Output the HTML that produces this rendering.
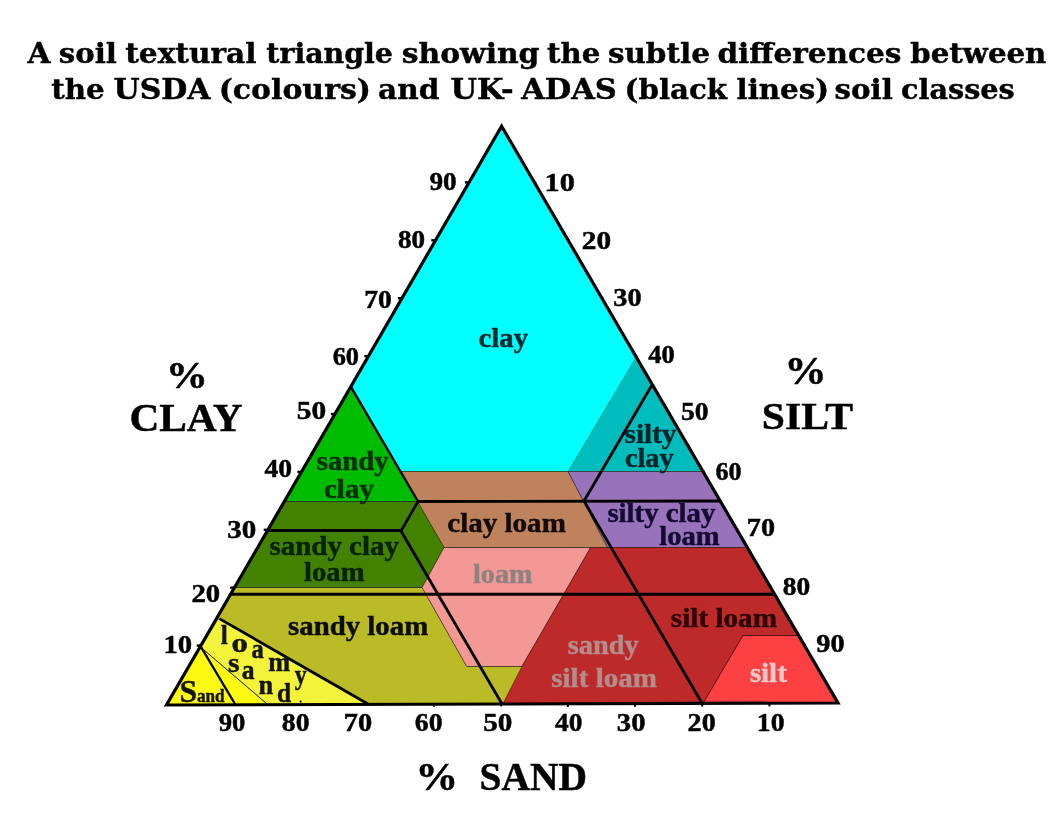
<!DOCTYPE html>
<html lang="en"><head><meta charset="utf-8"><title>Soil textural triangle</title>
<style>
html,body{margin:0;padding:0;background:#fff;}
body{width:1056px;height:834px;overflow:hidden;}
svg{display:block;}
svg text{font-family:"Liberation Serif","DejaVu Serif",serif;}
svg text.ttl{font-family:"DejaVu Serif Condensed","DejaVu Serif","Liberation Serif",serif;font-stretch:condensed;stroke:#000;stroke-width:.4px;}
</style></head><body>
<svg width="1056" height="834" viewBox="0 0 1056 834" role="img" aria-label="Soil textural triangle">
<rect width="1056" height="834" fill="#fff"/>
<g id="regions">
<polygon points="501.6,126.2 166.5,705.0 838.0,703.0" fill="#bbbb28" />
<polygon points="501.6,126.2 350.8,386.7 400.1,471.5 568.0,471.5 636.2,356.9" fill="#00ffff" />
<polygon points="636.2,356.9 568.0,471.5 703.0,471.5" fill="#00bcbc" />
<polygon points="350.8,386.7 417.5,501.5 284.3,501.5" fill="#00bc00" />
<polygon points="284.3,501.5 417.5,501.5 444.0,547.5 422.0,587.5 234.5,587.5" fill="#428200" />
<polygon points="400.1,471.5 568.0,471.5 607.5,547.5 444.0,547.5" fill="#be835d" />
<polygon points="568.0,471.5 703.0,471.5 747.3,547.5 607.5,547.5" fill="#9873bc" />
<polygon points="444.0,547.5 590.6,547.5 521.9,666.5 466.7,666.5 422.0,587.5" fill="#f49896" />
<polygon points="590.6,547.5 747.3,547.5 838.0,703.0 502.5,704.5 521.9,666.5" fill="#be2a2a" />
<polygon points="743.0,635.5 798.6,635.5 838.0,703.0 703.0,703.5" fill="#fd4143" />
<polygon points="219.3,618.6 368.0,704.5 166.5,705.0" fill="#f3f33c" />
<polygon points="201.0,647.0 267.0,704.5 166.5,705.0" fill="#fdfa12" />
</g>
<g id="thin" stroke="#000" fill="none">
<line x1="284.3" y1="501.5" x2="417.5" y2="501.5" stroke-width="1" stroke-opacity="0.6"/>
<line x1="400.1" y1="471.5" x2="703.0" y2="471.5" stroke-width="1" stroke-opacity="0.55"/>
<line x1="417.5" y1="501.5" x2="444.0" y2="547.5" stroke-width="1" stroke-opacity="0.6"/>
<line x1="444.0" y1="547.5" x2="607.5" y2="547.5" stroke-width="1" stroke-opacity="0.6"/>
<line x1="444.0" y1="547.5" x2="422.0" y2="587.5" stroke-width="1" stroke-opacity="0.6"/>
<line x1="422.0" y1="587.5" x2="466.7" y2="666.5" stroke-width="1" stroke-opacity="0.6"/>
<line x1="466.7" y1="666.5" x2="521.9" y2="666.5" stroke-width="1" stroke-opacity="0.6"/>
<line x1="521.9" y1="666.5" x2="590.6" y2="547.5" stroke-width="1" stroke-opacity="0.6"/>
<line x1="521.9" y1="666.5" x2="502.5" y2="704.5" stroke-width="1" stroke-opacity="0.4"/>
<line x1="234.5" y1="587.5" x2="422.0" y2="587.5" stroke-width="1" stroke-opacity="0.6"/>
<line x1="568.0" y1="471.5" x2="607.5" y2="547.5" stroke-width="1" stroke-opacity="0.6"/>
<line x1="607.5" y1="547.5" x2="747.3" y2="547.5" stroke-width="1" stroke-opacity="0.6"/>
<line x1="743.0" y1="635.5" x2="798.6" y2="635.5" stroke-width="1" stroke-opacity="0.6"/>
<line x1="743.0" y1="635.5" x2="703.0" y2="703.5" stroke-width="1" stroke-opacity="0.6"/>
<line x1="204.0" y1="650.0" x2="266.5" y2="703.5" stroke-width="1" stroke-opacity="0.9"/>
<line x1="636.2" y1="356.9" x2="568.0" y2="471.5" stroke-width="1" stroke-opacity="0.15"/>
</g>
<g id="adas" stroke="#000" fill="none" stroke-linecap="butt">
<circle cx="300.6" cy="701.6" r="1.1" fill="#14140a" stroke="none"/>
<line x1="350.8" y1="386.7" x2="418.0" y2="501.5" stroke-width="2.4" />
<line x1="401.0" y1="531.0" x2="418.0" y2="501.5" stroke-width="2.6" />
<line x1="417.0" y1="501.5" x2="720.0" y2="501.0" stroke-width="2.8" />
<line x1="267.0" y1="530.6" x2="401.5" y2="530.6" stroke-width="3" />
<line x1="401.0" y1="531.0" x2="502.0" y2="704.0" stroke-width="2.8" />
<line x1="230.0" y1="594.3" x2="773.0" y2="594.3" stroke-width="3" />
<line x1="651.5" y1="385.8" x2="584.0" y2="501.0" stroke-width="2.8" />
<line x1="584.0" y1="501.0" x2="702.5" y2="704.0" stroke-width="2.8" />
<line x1="219.3" y1="618.6" x2="368.0" y2="704.0" stroke-width="2.8" />
<line x1="201.0" y1="647.0" x2="235.0" y2="704.0" stroke-width="2.4" />
<line x1="196.7" y1="645.6" x2="200.9" y2="645.6" stroke-width="2.4" />
<line x1="803.8" y1="644.3" x2="805.6" y2="644.3" stroke-width="1.6" />
<line x1="230.2" y1="587.7" x2="234.4" y2="587.7" stroke-width="2.4" />
<line x1="770.1" y1="586.6" x2="771.9" y2="586.6" stroke-width="1.6" />
<line x1="263.7" y1="529.8" x2="267.9" y2="529.8" stroke-width="2.4" />
<line x1="736.5" y1="528.9" x2="738.3" y2="528.9" stroke-width="1.6" />
<line x1="297.3" y1="471.9" x2="301.5" y2="471.9" stroke-width="2.4" />
<line x1="702.8" y1="471.2" x2="704.6" y2="471.2" stroke-width="1.6" />
<line x1="330.8" y1="414.0" x2="335.0" y2="414.0" stroke-width="2.4" />
<line x1="669.2" y1="413.5" x2="671.0" y2="413.5" stroke-width="1.6" />
<line x1="364.3" y1="356.1" x2="368.5" y2="356.1" stroke-width="2.4" />
<line x1="635.5" y1="355.8" x2="637.3" y2="355.8" stroke-width="1.6" />
<line x1="397.8" y1="298.2" x2="402.0" y2="298.2" stroke-width="2.4" />
<line x1="601.9" y1="298.1" x2="603.7" y2="298.1" stroke-width="1.6" />
<line x1="431.3" y1="240.3" x2="435.5" y2="240.3" stroke-width="2.4" />
<line x1="568.2" y1="240.4" x2="570.0" y2="240.4" stroke-width="1.6" />
<line x1="464.9" y1="182.4" x2="469.1" y2="182.4" stroke-width="2.4" />
<line x1="534.6" y1="182.7" x2="536.4" y2="182.7" stroke-width="1.6" />
<line x1="769.4" y1="703.2" x2="769.4" y2="706.4" stroke-width="2.0" />
<line x1="702.2" y1="703.4" x2="702.2" y2="706.6" stroke-width="2.0" />
<line x1="635.0" y1="703.6" x2="635.0" y2="706.8" stroke-width="2.0" />
<line x1="567.9" y1="703.8" x2="567.9" y2="707.0" stroke-width="2.0" />
<line x1="501.2" y1="704.0" x2="501.2" y2="706.6" stroke-width="1.6" />
<line x1="434.1" y1="704.2" x2="434.1" y2="706.8" stroke-width="1.6" />
</g>
<polygon points="501.6,126.2 166.5,705.0 838.0,703.0" fill="none" stroke="#000" stroke-width="3.2" stroke-linejoin="miter"/>
<g id="labels" font-weight="bold" stroke-width="0.45">
<text transform="translate(27.45,62.8) scale(1.1545,1)" font-size="28.6" fill="#000" class="ttl">A</text>
<text transform="translate(58.77,62.8) scale(1.1340,1)" font-size="28.6" fill="#000" class="ttl">soil</text>
<text transform="translate(125.20,62.8) scale(1.1500,1)" font-size="28.6" fill="#000" class="ttl">textural</text>
<text transform="translate(266.30,62.8) scale(1.1044,1)" font-size="28.6" fill="#000" class="ttl">triangle</text>
<text transform="translate(401.74,62.8) scale(1.1576,1)" font-size="28.6" fill="#000" class="ttl">showing</text>
<text transform="translate(547.10,62.8) scale(1.1326,1)" font-size="28.6" fill="#000" class="ttl">the</text>
<text transform="translate(607.96,62.8) scale(1.1425,1)" font-size="28.6" fill="#000" class="ttl">subtle</text>
<text transform="translate(717.45,62.8) scale(1.1465,1)" font-size="28.6" fill="#000" class="ttl">differences</text>
<text transform="translate(910.20,62.8) scale(1.1367,1)" font-size="28.6" fill="#000" class="ttl">between</text>
<text transform="translate(51.30,98.7) scale(1.1370,1)" font-size="28.6" fill="#000" class="ttl">the</text>
<text transform="translate(113.50,98.7) scale(1.1655,1)" font-size="28.6" fill="#000" class="ttl">USDA</text>
<text transform="translate(218.67,98.7) scale(1.1638,1)" font-size="28.6" fill="#000" class="ttl">(colours)</text>
<text transform="translate(378.05,98.7) scale(1.1481,1)" font-size="28.6" fill="#000" class="ttl">and</text>
<text transform="translate(450.50,98.7) scale(1.1827,1)" font-size="28.6" fill="#000" class="ttl">UK-</text>
<text transform="translate(521.18,98.7) scale(1.1840,1)" font-size="28.6" fill="#000" class="ttl">ADAS</text>
<text transform="translate(624.62,98.7) scale(1.1382,1)" font-size="28.6" fill="#000" class="ttl">(black</text>
<text transform="translate(736.50,98.7) scale(1.1392,1)" font-size="28.6" fill="#000" class="ttl">lines)</text>
<text transform="translate(834.56,98.7) scale(1.1380,1)" font-size="28.6" fill="#000" class="ttl">soil</text>
<text transform="translate(901.09,98.7) scale(1.1150,1)" font-size="28.6" fill="#000" class="ttl">classes</text>
<text transform="translate(165.90,387.9) scale(1.0750,1)" font-size="39" fill="#000" stroke="#000">%</text>
<text transform="translate(129.38,431.4) scale(1.0600,1)" font-size="39" fill="#000" stroke="#000">CLAY</text>
<text transform="translate(784.39,384.2) scale(1.0781,1)" font-size="39" fill="#000" stroke="#000">%</text>
<text transform="translate(761.86,428.5) scale(1.0687,1)" font-size="39" fill="#000" stroke="#000">SILT</text>
<text transform="translate(415.62,790.3) scale(1.0938,1)" font-size="39" fill="#000" stroke="#000">%</text>
<text transform="translate(479.48,790.0) scale(1.0117,1)" font-size="39" fill="#000" stroke="#000">SAND</text>
<text transform="translate(429.40,190.2) scale(1.0875,1)" font-size="25" fill="#000" stroke="#000">90</text>
<text transform="translate(398.00,248.0) scale(1.0833,1)" font-size="25" fill="#000" stroke="#000">80</text>
<text transform="translate(364.20,307.8) scale(1.1000,1)" font-size="25" fill="#000" stroke="#000">70</text>
<text transform="translate(332.70,364.8) scale(1.0542,1)" font-size="25" fill="#000" stroke="#000">60</text>
<text transform="translate(296.83,419.0) scale(1.1739,1)" font-size="25" fill="#000" stroke="#000">50</text>
<text transform="translate(264.50,476.8) scale(1.1042,1)" font-size="25" fill="#000" stroke="#000">40</text>
<text transform="translate(227.14,537.8) scale(1.1609,1)" font-size="25" fill="#000" stroke="#000">30</text>
<text transform="translate(191.45,602.0) scale(1.1478,1)" font-size="25" fill="#000" stroke="#000">20</text>
<text transform="translate(163.51,653.0) scale(1.1455,1)" font-size="25" fill="#000" stroke="#000">10</text>
<text transform="translate(544.58,190.6) scale(1.2091,1)" font-size="25" fill="#000" stroke="#000">10</text>
<text transform="translate(581.83,249.0) scale(1.1739,1)" font-size="25" fill="#000" stroke="#000">20</text>
<text transform="translate(613.37,305.6) scale(1.1348,1)" font-size="25" fill="#000" stroke="#000">30</text>
<text transform="translate(648.30,363.2) scale(1.0583,1)" font-size="25" fill="#000" stroke="#000">40</text>
<text transform="translate(680.90,419.9) scale(1.1043,1)" font-size="25" fill="#000" stroke="#000">50</text>
<text transform="translate(715.50,480.2) scale(1.0458,1)" font-size="25" fill="#000" stroke="#000">60</text>
<text transform="translate(746.87,536.4) scale(1.1261,1)" font-size="25" fill="#000" stroke="#000">70</text>
<text transform="translate(782.70,594.6) scale(1.0958,1)" font-size="25" fill="#000" stroke="#000">80</text>
<text transform="translate(816.30,652.2) scale(1.1292,1)" font-size="25" fill="#000" stroke="#000">90</text>
<text transform="translate(218.75,730.5) scale(1.0646,1)" font-size="25" fill="#000" stroke="#000">90</text>
<text transform="translate(281.80,730.5) scale(1.1083,1)" font-size="25" fill="#000" stroke="#000">80</text>
<text transform="translate(343.77,730.5) scale(1.1348,1)" font-size="25" fill="#000" stroke="#000">70</text>
<text transform="translate(414.80,730.5) scale(1.1083,1)" font-size="25" fill="#000" stroke="#000">60</text>
<text transform="translate(483.23,730.5) scale(1.1652,1)" font-size="25" fill="#000" stroke="#000">50</text>
<text transform="translate(555.00,730.5) scale(1.0958,1)" font-size="25" fill="#000" stroke="#000">40</text>
<text transform="translate(616.86,730.5) scale(1.1435,1)" font-size="25" fill="#000" stroke="#000">30</text>
<text transform="translate(687.57,730.5) scale(1.1261,1)" font-size="25" fill="#000" stroke="#000">20</text>
<text transform="translate(756.78,730.5) scale(1.1091,1)" font-size="25" fill="#000" stroke="#000">10</text>
<text transform="translate(478.55,346.8) scale(1.0457,1)" font-size="27.5" fill="#042a2c" stroke="#042a2c">clay</text>
<text transform="translate(316.80,470.0) scale(1.0435,1)" font-size="27.5" fill="#053005" stroke="#053005">sandy</text>
<text transform="translate(323.94,497.5) scale(1.0565,1)" font-size="27.5" fill="#053005" stroke="#053005">clay</text>
<text transform="translate(269.50,555.2) scale(1.0528,1)" font-size="27.5" fill="#082204" stroke="#082204">sandy clay</text>
<text transform="translate(304.00,581.0) scale(1.0431,1)" font-size="27.5" fill="#082204" stroke="#082204">loam</text>
<text transform="translate(447.24,532.3) scale(1.0568,1)" font-size="27.5" fill="#140a05" stroke="#140a05">clay loam</text>
<text transform="translate(472.90,583.3) scale(1.0276,1)" font-size="27.5" fill="#8c8282" stroke="#8c8282">loam</text>
<text transform="translate(288.10,634.6) scale(1.0478,1)" font-size="27.5" fill="#0c0c06" stroke="#0c0c06">sandy loam</text>
<text transform="translate(624.60,443.0) scale(1.0592,1)" font-size="27.5" fill="#04262a" stroke="#04262a">silty</text>
<text transform="translate(624.97,466.8) scale(1.0283,1)" font-size="27.5" fill="#04262a" stroke="#04262a">clay</text>
<text transform="translate(607.40,522.0) scale(1.0476,1)" font-size="27.5" fill="#140a32" stroke="#140a32">silty clay</text>
<text transform="translate(659.20,544.8) scale(1.0414,1)" font-size="27.5" fill="#140a32" stroke="#140a32">loam</text>
<text transform="translate(670.80,626.8) scale(1.0620,1)" font-size="27.5" fill="#2d0505" stroke="#2d0505">silt loam</text>
<text transform="translate(567.70,653.6) scale(1.0319,1)" font-size="27.5" fill="#b48c8c" stroke="#b48c8c">sandy</text>
<text transform="translate(551.20,686.9) scale(1.0580,1)" font-size="27.5" fill="#b48c8c" stroke="#b48c8c">silt loam</text>
<text transform="translate(749.90,681.7) scale(1.0486,1)" font-size="27.5" fill="#f0c8c8" stroke="#f0c8c8">silt</text>
<text transform="translate(220.80,644.0) scale(0.9250,1)" font-size="27.5" fill="#14140a" stroke="#14140a">l</text>
<text transform="translate(231.51,651.7) scale(1.1917,1)" font-size="27.5" fill="#14140a" stroke="#14140a">o</text>
<text transform="translate(251.51,657.7) scale(0.8923,1)" font-size="27.5" fill="#14140a" stroke="#14140a">a</text>
<text transform="translate(268.30,671.4) scale(0.9565,1)" font-size="27.5" fill="#14140a" stroke="#14140a">m</text>
<text transform="translate(294.80,684.0) scale(0.8643,1)" font-size="27.5" fill="#14140a" stroke="#14140a">y</text>
<text transform="translate(228.00,672.0) scale(1.0800,1)" font-size="27.5" fill="#14140a" stroke="#14140a">s</text>
<text transform="translate(241.67,679.0) scale(0.9308,1)" font-size="27.5" fill="#14140a" stroke="#14140a">a</text>
<text transform="translate(258.50,694.0) scale(0.9600,1)" font-size="27.5" fill="#14140a" stroke="#14140a">n</text>
<text transform="translate(277.07,702.4) scale(0.9286,1)" font-size="27.5" fill="#14140a" stroke="#14140a">d</text>
<text transform="translate(179.48,701.7) scale(1.0200,1)" font-size="31" fill="#14140a" stroke="#14140a">S</text>
<text transform="translate(197.00,701.7) scale(0.9032,1)" font-size="19" fill="#14140a" stroke="#14140a">and</text>
</g>
</svg>
</body></html>
